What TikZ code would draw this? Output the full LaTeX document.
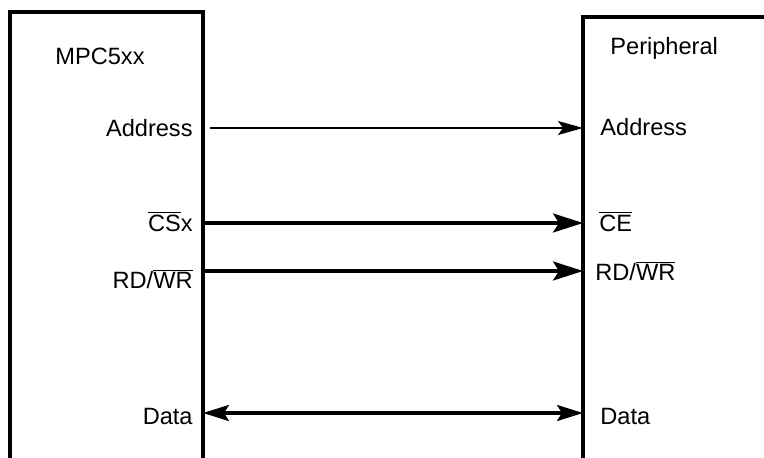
\documentclass[tikz,border=0pt]{standalone}
\usepackage{fontspec}
\setmainfont{Liberation Sans}
\usetikzlibrary{arrows.meta}
\tikzset{
  chip/.style={line width=1.6pt},
  pin/.style={font=\fontsize{11.8}{14}\selectfont, inner sep=0pt},
  thinsig/.style={-{Stealth[length=12.5pt, width=7pt, inset=2.5pt]}, line width=0.6pt},
  sig/.style={-{Stealth[length=15pt, width=9.5pt, inset=3pt]}, line width=1.6pt},
  bus/.style={{Stealth[length=13pt, width=8pt, inset=2.5pt]}-{Stealth[length=13pt, width=8pt, inset=2.5pt]}, line width=1.6pt},
}
\newcommand{\ovl}[1]{$\overline{\mbox{#1}}$}

\begin{document}
\begin{tikzpicture}[x=0.5pt, y=-0.5pt]
  \useasboundingbox (0,0) rectangle (764,458);
  % the two chips, open at the bottom
  \draw[chip] (10,458) -- (10,12) -- (203,12) -- (203,458);
  \draw[chip] (583,458) -- (583,17) -- (764,17);
  \node[pin, anchor=base west] (mpc) at (55,65) {MPC5xx};
  \node[pin, anchor=base west] (per) at (610,55) {Peripheral};
  % pin names
  \node[pin, anchor=base east] (mpcaddr) at (193,137) {Address};
  \node[pin, anchor=base east] (mpccs) at (193,232) {\ovl{CS}x};
  \node[pin, anchor=base east] (mpcrw) at (193,289) {RD/\ovl{WR}};
  \node[pin, anchor=base east] (mpcdata) at (193,424) {Data};
  \node[pin, anchor=base west] (peraddr) at (600,136) {Address};
  \node[pin, anchor=base west] (perce) at (599,232) {\ovl{CE}};
  \node[pin, anchor=base west] (perrw) at (595,281) {RD/\ovl{WR}};
  \node[pin, anchor=base west] (perdata) at (600,424) {Data};
  % pins on the chip edges
  \coordinate (addrout) at (210,128);
  \coordinate (addrin) at (583,128);
  \coordinate (csout) at (203,223);
  \coordinate (cein) at (583,223);
  \coordinate (rwout) at (203,271);
  \coordinate (rwin) at (583,271);
  \coordinate (dataa) at (203,413);
  \coordinate (datab) at (583,413);
  \draw[thinsig] (addrout) -- (addrin);
  \draw[sig] (csout) -- (cein);
  \draw[sig] (rwout) -- (rwin);
  \draw[bus] (dataa) -- (datab);
\end{tikzpicture}
\end{document}
